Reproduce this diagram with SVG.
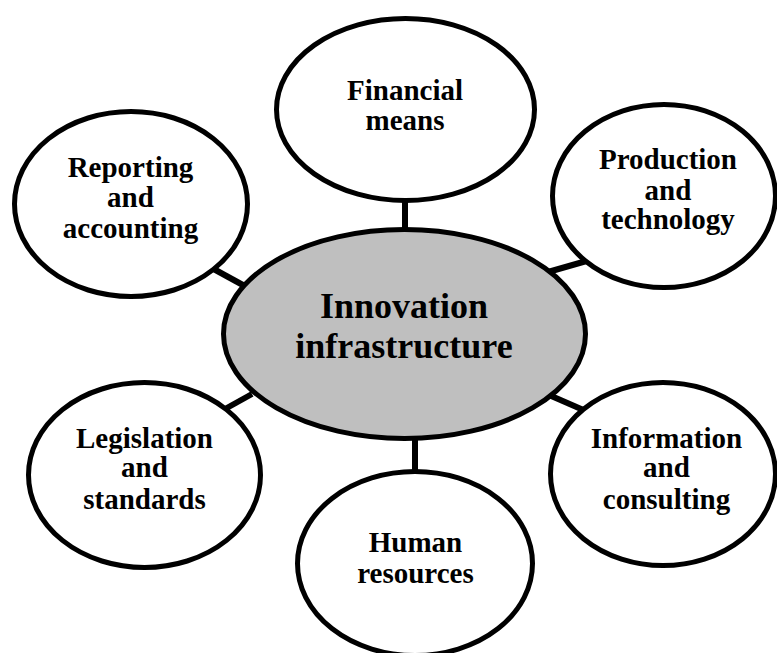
<svg xmlns="http://www.w3.org/2000/svg" width="777" height="653" viewBox="0 0 777 653">
<style>
.node{fill:#ffffff;stroke:#000000;stroke-width:5}
.hub{fill:#bfbfbf;stroke:#000000;stroke-width:5}
.conn{stroke:#000000;stroke-width:6;fill:none}
.lbl{font-family:"Liberation Serif","Times New Roman",serif;font-weight:bold;font-size:29px;fill:#000000;text-anchor:middle}
.hlbl{font-family:"Liberation Serif","Times New Roman",serif;font-weight:bold;font-size:36px;fill:#000000;text-anchor:middle}
</style>
<rect width="777" height="653" fill="#ffffff"/>
<g id="connectors">
<line class="conn" x1="405" y1="195" x2="405" y2="235"/>
<line class="conn" x1="210" y1="267" x2="252" y2="290"/>
<line class="conn" x1="548" y1="272" x2="590" y2="260"/>
<line class="conn" x1="225" y1="409" x2="252" y2="394"/>
<line class="conn" x1="415" y1="434" x2="415" y2="474"/>
<line class="conn" x1="549" y1="395" x2="588" y2="412"/>
</g>
<g id="hub">
<ellipse class="hub" cx="404.5" cy="334" rx="181" ry="104.5"/>
<text class="hlbl" x="404" y="318">Innovation</text>
<text class="hlbl" x="404" y="358">infrastructure</text>
</g>
<g id="financial">
<ellipse class="node" cx="405.5" cy="109.5" rx="129" ry="91"/>
<text class="lbl" x="405" y="100">Financial</text>
<text class="lbl" x="405" y="130">means</text>
</g>
<g id="reporting">
<ellipse class="node" cx="131" cy="204" rx="116.5" ry="92.5"/>
<text class="lbl" x="130.5" y="177">Reporting</text>
<text class="lbl" x="130.5" y="207">and</text>
<text class="lbl" x="130.5" y="238">accounting</text>
</g>
<g id="production">
<ellipse class="node" cx="664" cy="196" rx="111.5" ry="91.5"/>
<text class="lbl" x="668" y="169">Production</text>
<text class="lbl" x="668" y="200">and</text>
<text class="lbl" x="668" y="229">technology</text>
</g>
<g id="legislation">
<ellipse class="node" cx="144.5" cy="475" rx="116" ry="92.5"/>
<text class="lbl" x="144.5" y="448">Legislation</text>
<text class="lbl" x="144.5" y="477">and</text>
<text class="lbl" x="144.5" y="509">standards</text>
</g>
<g id="human">
<ellipse class="node" cx="415" cy="563.5" rx="117.5" ry="92"/>
<text class="lbl" x="415.5" y="552">Human</text>
<text class="lbl" x="415.5" y="583">resources</text>
</g>
<g id="information">
<ellipse class="node" cx="663" cy="474" rx="112.5" ry="91.5"/>
<text class="lbl" x="666.5" y="448">Information</text>
<text class="lbl" x="666.5" y="477">and</text>
<text class="lbl" x="666.5" y="509">consulting</text>
</g>
</svg>
